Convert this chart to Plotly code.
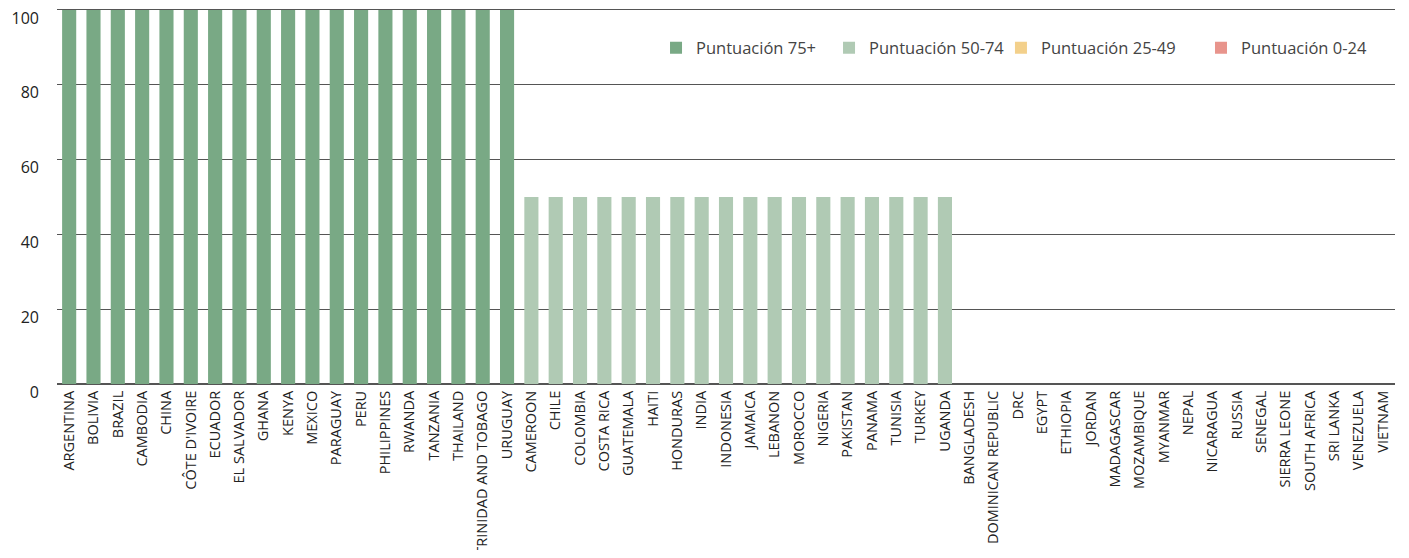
import plotly.graph_objects as go

countries = [
    "ARGENTINA", "BOLIVIA", "BRAZIL", "CAMBODIA", "CHINA", "CÔTE D'IVOIRE", "ECUADOR",
    "EL SALVADOR", "GHANA", "KENYA", "MEXICO", "PARAGUAY", "PERU", "PHILIPPINES",
    "RWANDA", "TANZANIA", "THAILAND", "TRINIDAD AND TOBAGO", "URUGUAY",
    "CAMEROON", "CHILE", "COLOMBIA", "COSTA RICA", "GUATEMALA", "HAITI", "HONDURAS",
    "INDIA", "INDONESIA", "JAMAICA", "LEBANON", "MOROCCO", "NIGERIA", "PAKISTAN",
    "PANAMA", "TUNISIA", "TURKEY", "UGANDA",
    "BANGLADESH", "DOMINICAN REPUBLIC", "DRC", "EGYPT", "ETHIOPIA", "JORDAN",
    "MADAGASCAR", "MOZAMBIQUE", "MYANMAR", "NEPAL", "NICARAGUA", "RUSSIA", "SENEGAL",
    "SIERRA LEONE", "SOUTH AFRICA", "SRI LANKA", "VENEZUELA", "VIETNAM",
]
values = [100] * 19 + [50] * 18 + [0] * 18
groups = ["Puntuación 75+"] * 19 + ["Puntuación 50-74"] * 18 + ["Puntuación 0-24"] * 18

legend_order = ["Puntuación 75+", "Puntuación 50-74", "Puntuación 25-49", "Puntuación 0-24"]
colors = {
    "Puntuación 75+": "#79A985",
    "Puntuación 50-74": "#B0CAB4",
    "Puntuación 25-49": "#F3D08B",
    "Puntuación 0-24": "#E8948C",
}
legend_x = [0.4477, 0.5770, 0.7055, 0.8550]
y_ticks = [0, 20, 40, 60, 80, 100]

FONT = "Open Sans"
fig = go.Figure()
legend_layouts = {}
for i, g in enumerate(legend_order):
    xs = [c for c, gg in zip(countries, groups) if gg == g]
    ys = [v for v, gg in zip(values, groups) if gg == g]
    if not xs:
        xs, ys = [countries[0]], [None]
    lname = "legend" if i == 0 else f"legend{i + 1}"
    fig.add_trace(go.Bar(x=xs, y=ys, name=g, legend=lname,
                         marker=dict(color=colors[g], line=dict(width=0))))
    legend_layouts[lname] = dict(
        orientation="h", x=legend_x[i], y=0.898, xanchor="left", yanchor="middle",
        font=dict(size=16.5, color="#444444"), bgcolor="rgba(0,0,0,0)", itemwidth=30,
    )

fig.update_layout(
    width=1393, height=542,
    margin=dict(l=49, r=6, t=2, b=166, autoexpand=False),
    paper_bgcolor="white", plot_bgcolor="white",
    barmode="overlay", bargap=0.42,
    font=dict(family=FONT, color="#333333"),
    showlegend=True,
    xaxis=dict(
        categoryorder="array", categoryarray=countries, tickangle=-90,
        tickfont=dict(size=14.5, color="#222222"), showgrid=False,
        showline=True, linecolor="#555555", linewidth=1, ticks="", mirror=True,
        range=[-0.5, len(countries) - 0.5], automargin=False,
    ),
    yaxis=dict(
        range=[0, 100], tickvals=y_ticks,
        tickfont=dict(size=16, color="#222222"), showgrid=True,
        gridcolor="#555555", gridwidth=1, zeroline=True, zerolinecolor="#555555",
        ticklabelstandoff=17, ticklabelshift=8, ticklabeloverflow="allow",
        automargin=False,
    ),
    **legend_layouts,
)

fig.write_html("out.html")
